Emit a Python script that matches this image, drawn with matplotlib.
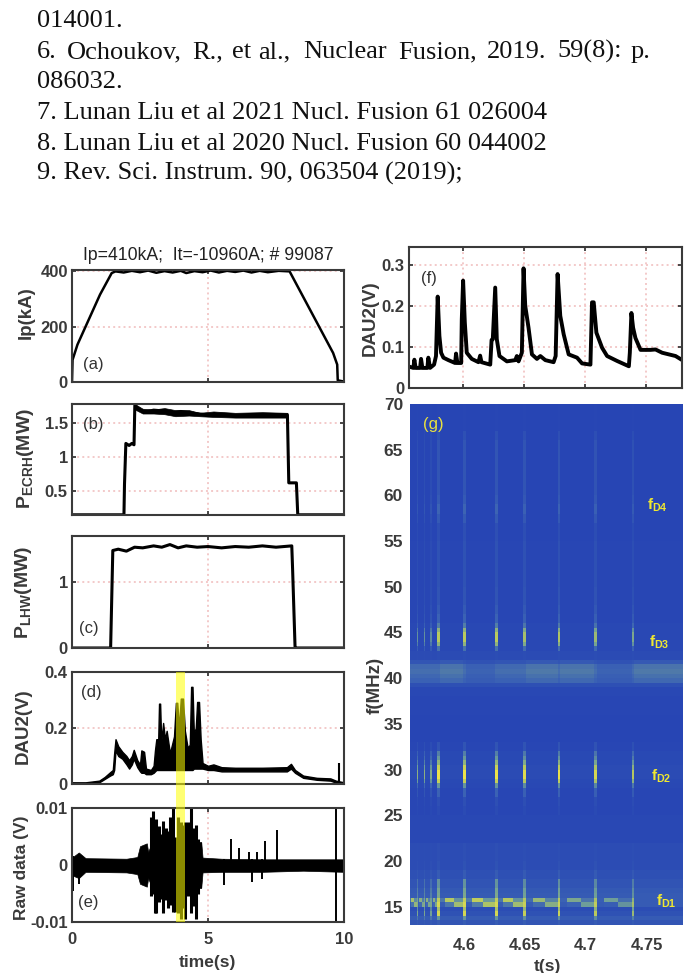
import matplotlib
matplotlib.use('Agg')
import matplotlib.pyplot as plt
import numpy as np
from matplotlib.colors import LinearSegmentedColormap
from matplotlib.patches import Rectangle

plt.rcParams['font.family'] = ['Liberation Sans', 'DejaVu Sans']
plt.rcParams['mathtext.fontset'] = 'custom'
plt.rcParams['mathtext.rm'] = 'Liberation Sans'
plt.rcParams['mathtext.bf'] = 'Liberation Sans:bold'

# Referencias (texto de arriba)
ref_lines = ['014001.', '086032.',
             '7. Lunan Liu et al 2021 Nucl. Fusion 61 026004',
             '8. Lunan Liu et al 2020 Nucl. Fusion 60 044002',
             '9. Rev. Sci. Instrum. 90, 063504 (2019);']
ref_words = ['6.', 'Ochoukov,', 'R.,', 'et', 'al.,', 'Nuclear', 'Fusion,', '2019.', '59(8):', 'p.']

# (a) Ip
ip_t = [0, 0.02, 0.2, 0.42, 1.03, 1.46, 1.6, 1.9, 2.2, 2.5, 2.8, 3.1, 3.4, 3.7, 4.0, 4.2, 4.5, 4.8, 5.1, 5.4, 5.7, 6.0, 6.3, 6.6, 6.9, 7.2, 7.6, 8.0, 9.6, 9.75, 9.77, 9.98]
ip_v = [0, 80, 135, 183, 316, 394, 400, 396, 402, 397, 403, 395, 401, 396, 402, 394, 401, 397, 403, 396, 402, 398, 403, 396, 402, 397, 402, 400, 105, 63, 6, 2]

# (b) P_ECRH
ecrh_t = [0, 1.91, 1.93, 1.98, 2.1, 2.2, 2.28, 2.31, 2.45, 2.7, 3.0, 3.3, 3.7, 4.0, 4.5, 5.0, 5.5, 6.0, 7.0, 7.92, 7.97, 8.25, 8.3, 10]
ecrh_v = [0.15, 0.15, 0.6, 1.2, 1.17, 1.2, 1.18, 1.76, 1.7, 1.66, 1.69, 1.68, 1.65, 1.67, 1.64, 1.62, 1.63, 1.61, 1.62, 1.62, 0.62, 0.62, 0.15, 0.15]
ecrh_band_t = [2.31, 2.6, 3.0, 3.4, 3.8, 4.3, 4.7, 5.2, 6.0, 7.0, 7.92]
ecrh_band_top = [1.78, 1.71, 1.7, 1.72, 1.69, 1.69, 1.65, 1.67, 1.65, 1.66, 1.65]
ecrh_band_bot = [1.7, 1.64, 1.64, 1.63, 1.6, 1.61, 1.6, 1.59, 1.58, 1.58, 1.58]

# (c) P_LHW
lhw_t = [0, 1.42, 1.5, 1.7, 2.0, 2.3, 2.6, 3.0, 3.3, 3.6, 3.9, 4.2, 4.6, 5.0, 5.5, 6.0, 6.5, 7.0, 7.5, 8.08, 8.11, 8.2, 8.25, 10]
lhw_v = [0, 0, 1.48, 1.5, 1.47, 1.53, 1.52, 1.55, 1.53, 1.57, 1.52, 1.55, 1.53, 1.54, 1.52, 1.54, 1.53, 1.55, 1.53, 1.55, 1.2, 0.02, 0, 0]

# (d) DAU2, envolvente
dau_t = [0, 0.5, 1, 1.2, 1.4, 1.5, 1.55, 1.6, 1.7, 1.85, 2.0, 2.1, 2.2, 2.27, 2.4, 2.5, 2.55, 2.65, 2.72, 2.9, 3.0, 3.05, 3.1, 3.17, 3.2, 3.24, 3.28, 3.35, 3.42, 3.48, 3.6, 3.75, 3.82, 3.87, 3.93, 4.0, 4.08, 4.15, 4.25, 4.33, 4.38, 4.43, 4.48, 4.55, 4.6, 4.67, 4.73, 4.8, 5.0, 5.2, 5.5, 6.0, 7.0, 7.9, 8.05, 8.2, 8.5, 9.0, 9.5, 9.7, 10]
dau_top = [0.006, 0.006, 0.012, 0.025, 0.042, 0.05, 0.11, 0.16, 0.135, 0.115, 0.1, 0.085, 0.1, 0.122, 0.085, 0.07, 0.12, 0.115, 0.055, 0.05, 0.065, 0.12, 0.16, 0.16, 0.287, 0.287, 0.15, 0.218, 0.16, 0.19, 0.11, 0.17, 0.29, 0.29, 0.2, 0.305, 0.305, 0.19, 0.13, 0.14, 0.347, 0.347, 0.18, 0.2, 0.293, 0.293, 0.16, 0.075, 0.065, 0.07, 0.06, 0.058, 0.058, 0.06, 0.072, 0.05, 0.03, 0.022, 0.02, 0.012, 0.006]
dau_bot = [0, 0, 0.006, 0.018, 0.03, 0.035, 0.05, 0.12, 0.1, 0.09, 0.07, 0.055, 0.07, 0.09, 0.06, 0.045, 0.04, 0.04, 0.035, 0.035, 0.04, 0.045, 0.05, 0.05, 0.05, 0.05, 0.05, 0.05, 0.05, 0.05, 0.05, 0.05, 0.05, 0.05, 0.05, 0.05, 0.05, 0.05, 0.05, 0.05, 0.05, 0.05, 0.055, 0.055, 0.055, 0.055, 0.055, 0.055, 0.05, 0.05, 0.045, 0.045, 0.045, 0.045, 0.055, 0.04, 0.022, 0.015, 0.012, 0.005, 0]
dau_spike_t = [9.8]
dau_spike_v = [0.075]

# (e) Raw data, envolvente y picos
raw_t = [0, 0.25, 0.5, 2.0, 2.4, 2.5, 2.75, 2.8, 2.9, 3.05, 4.75, 4.8, 5.5, 7.0, 8.5, 10]
raw_top = [0.0013, 0.0022, 0.0012, 0.0011, 0.0014, 0.0033, 0.0038, 0.0023, 0.0035, 0.0035, 0.004, 0.0013, 0.0011, 0.001, 0.001, 0.001]
raw_bot = [-0.0018, -0.0023, -0.0012, -0.0013, -0.0016, -0.0033, -0.0038, -0.0023, -0.0035, -0.0035, -0.004, -0.0013, -0.0012, -0.0012, -0.001, -0.0012]
burst_t = [2.9, 2.97, 3.05, 3.1, 3.2, 3.28, 3.35, 3.45, 3.52, 3.6, 3.7, 3.78, 3.9, 4.0, 4.08, 4.15, 4.25, 4.36, 4.45, 4.55, 4.65, 4.72]
burst_top = [0.0085, 0.0095, 0.006, 0.008, 0.0068, 0.0055, 0.0078, 0.0065, 0.006, 0.0085, 0.01, 0.005, 0.0085, 0.0075, 0.007, 0.0075, 0.0075, 0.01, 0.0065, 0.007, 0.0045, 0.004]
burst_bot = [-0.0055, -0.005, -0.0085, -0.0085, -0.0065, -0.006, -0.0085, -0.0062, -0.0075, -0.007, -0.0082, -0.0082, -0.0085, -0.0095, -0.0075, -0.0095, -0.0055, -0.0085, -0.0072, -0.0095, -0.005, -0.004]
spike_t = [0.02, 0.25, 5.6, 5.85, 6.15, 6.5, 6.6, 6.8, 7.0, 7.1, 7.55, 9.72]
spike_hi = [0.0015, 0.0015, 0.001, 0.0045, 0.0029, 0.0022, 0.001, 0.0022, 0.001, 0.0042, 0.0062, 0.01]
spike_lo = [-0.0045, -0.0034, -0.0035, -0.001, -0.001, -0.001, -0.003, -0.001, -0.0024, -0.001, -0.001, -0.01]

# (f) DAU2 ampliado
f_t = [4.5558, 4.5591, 4.5599, 4.561, 4.5646, 4.5654, 4.5665, 4.5706, 4.5714, 4.5728, 4.5761, 4.5777, 4.5791, 4.5805, 4.5819, 4.5838, 4.5879, 4.5934, 4.5942, 4.5953, 4.5984, 4.5989, 4.6, 4.6014, 4.603, 4.6071, 4.6126, 4.614, 4.6151, 4.6223, 4.6234, 4.6244, 4.6264, 4.6277, 4.6299, 4.636, 4.6429, 4.6442, 4.6456, 4.6483, 4.6497, 4.6511, 4.6538, 4.6566, 4.6607, 4.6635, 4.6676, 4.6744, 4.6761, 4.6777, 4.6799, 4.6827, 4.6868, 4.6937, 4.6978, 4.7047, 4.706, 4.7074, 4.7096, 4.7143, 4.7184, 4.7266, 4.7363, 4.7371, 4.7384, 4.7398, 4.7417, 4.7459, 4.7541, 4.7582, 4.7637, 4.7692, 4.7747, 4.7802]
f_v = [0.052, 0.049, 0.069, 0.049, 0.049, 0.071, 0.049, 0.049, 0.074, 0.049, 0.057, 0.078, 0.223, 0.127, 0.086, 0.074, 0.068, 0.061, 0.084, 0.061, 0.061, 0.167, 0.262, 0.16, 0.086, 0.071, 0.063, 0.079, 0.063, 0.057, 0.117, 0.119, 0.245, 0.119, 0.078, 0.065, 0.068, 0.078, 0.065, 0.086, 0.292, 0.2, 0.147, 0.082, 0.071, 0.078, 0.068, 0.063, 0.078, 0.278, 0.176, 0.131, 0.082, 0.074, 0.06, 0.057, 0.209, 0.209, 0.135, 0.098, 0.078, 0.066, 0.053, 0.086, 0.183, 0.147, 0.122, 0.093, 0.093, 0.094, 0.086, 0.082, 0.078, 0.068]

# (g) espectrograma: bandas de frecuencia y rafagas
g_freq = [13, 13.5, 14, 14.5, 15, 15.5, 16, 16.5, 17, 18, 19, 20, 22, 25, 26, 27, 28, 28.5, 29, 29.5, 30, 30.5, 31, 31.5, 32, 33, 36, 38, 39, 39.5, 40, 40.5, 41, 41.5, 42, 43, 43.5, 44, 44.5, 45, 45.5, 46, 47, 48, 50, 52, 55, 57, 58, 59, 60, 61, 63, 65, 66, 67, 70]
g_bg = [.16, .2, .13, .1, .2, .2, .2, .18, .15, .12, .09, .09, .06, .05, .05, .05, .06, .07, .08, .08, .08, .07, .07, .07, .05, .04, .05, .06, .12, .24, .27, .3, .28, .16, .08, .06, .06, .06, .06, .06, .06, .05, .05, .05, .05, .05, .04, .04, .04, .04, .04, .04, .04, .04, .04, .04]
g_profile = [.05, .25, .75, .6, .7, .6, .35, .35, .3, .08, .04, .02, 0, .03, .06, .2, .4, .75, .95, .95, .75, .55, .4, .3, .1, 0, 0, 0, 0, 0, 0, 0, 0, 0, .02, .25, .55, .7, .7, .55, .3, .2, .14, .1, .08, .08, .07, .15, .22, .15, .12, .12, .12, .12, .08, .01]
g_burst_t = [4.5619, 4.5673, 4.5728, 4.5788, 4.6006, 4.6264, 4.65, 4.678, 4.708, 4.739]
g_burst_gain = [.55, .55, .5, 1, 1, 1, .9, .95, .85, .7]
g_burst_w = [.0005, .0005, .0005, .0014, .0012, .0014, .0012, .0012, .0011, .0009]
g_d1_gap = [.7, .6, .6, .6, .75, .8, .75, .65, .55, .5, .1]
g_40_gain = [1, 1, 1, 1, 1.15, .85, 1, 1.15, 1.15, .85, 1.15]
g_xlim = (4.5555, 4.78)

ANCHO, ALTO = 689, 973
fig = plt.figure(figsize=(ANCHO / 100, ALTO / 100), dpi=100)

gris = '#3a3a3a'
rosa = '#f3c9c9'


def caja(izq, arr, der, aba):
    return fig.add_axes([izq / ANCHO, 1 - aba / ALTO, (der - izq) / ANCHO, (aba - arr) / ALTO])


def texto(x, y, s, **kw):
    kw.setdefault('ha', 'center')
    kw.setdefault('va', 'center')
    return fig.text(x / ANCHO, 1 - y / ALTO, s, **kw)


def estilo(ax, xticks, yticks, ylabels, xlim, ylim, xvis=False):
    ax.set_xlim(xlim)
    ax.set_ylim(ylim)
    ax.set_xticks(xticks)
    ax.set_yticks(yticks)
    ax.set_yticklabels(ylabels, fontweight='bold', fontsize=12, color=gris)
    ax.set_xticklabels(xticks if xvis else [])
    ax.grid(True, linestyle=':', color=rosa, linewidth=1.4)
    ax.set_axisbelow(True)
    ax.tick_params(direction='in', top=True, right=True, length=3, width=1.3, color=gris, pad=3)
    for s in ax.spines.values():
        s.set_linewidth(1.5)
        s.set_color(gris)


# Texto de referencias
for linea, y in zip(ref_lines, [27, 88, 119, 150, 180]):
    fig.text(37 / ANCHO, 1 - y / ALTO, linea, family='Liberation Serif', fontsize=19, color='#111111', va='baseline')
for palabra, x in zip(ref_words, [37, 67, 192, 232, 258, 303, 398, 487, 557, 631]):
    fig.text(x / ANCHO, 1 - 58 / ALTO, palabra, family='Liberation Serif', fontsize=19, color='#111111', va='baseline')

X_LARGO = (0, 10)

ax_a = caja(72, 270, 344, 382)
estilo(ax_a, [0, 5, 10], [0, 200, 400], ['0', '200', '400'], X_LARGO, (0, 405))
ax_a.plot(ip_t, ip_v, color='k', lw=1.8)

ax_b = caja(72, 404, 344, 515)
estilo(ax_b, [0, 5, 10], [0.5, 1, 1.5], ['0.5', '1', '1.5'], X_LARGO, (0.147, 1.78))
ax_b.plot(ecrh_t, ecrh_v, color='k', lw=2.2)
ax_b.fill_between(ecrh_band_t, ecrh_band_bot, ecrh_band_top, color='k', lw=0.5)

ax_c = caja(72, 536, 344, 648)
estilo(ax_c, [0, 5, 10], [0, 1], ['0', '1'], X_LARGO, (0, 1.7))
ax_c.plot(lhw_t, lhw_v, color='k', lw=2.2)

ax_d = caja(72, 672, 344, 784)
estilo(ax_d, [0, 5, 10], [0, 0.2, 0.4], ['0', '0.2', '0.4'], X_LARGO, (0, 0.4))
ax_d.fill_between(dau_t, dau_bot, dau_top, color='k', lw=1)
ax_d.vlines(dau_spike_t, 0, dau_spike_v, color='k', lw=1.5)

ax_e = caja(72, 808, 344, 922)
estilo(ax_e, [0, 5, 10], [-0.01, 0, 0.01], ['-0.01', '0', '0.01'], X_LARGO, (-0.01, 0.01), xvis=True)
ax_e.fill_between(raw_t, raw_bot, raw_top, color='k', lw=0.5)
ax_e.vlines(burst_t, burst_bot, burst_top, color='k', lw=2.2)
ax_e.vlines(spike_t, spike_lo, spike_hi, color='k', lw=1.4)
for lab in ax_e.get_xticklabels():
    lab.set_fontweight('bold')
    lab.set_fontsize(12)
    lab.set_color(gris)
ax_e.tick_params(axis='x', pad=7)

ax_f = caja(409, 247, 682, 388)
estilo(ax_f, [4.6, 4.65, 4.7, 4.75], [0, 0.1, 0.2, 0.3], ['0', '0.1', '0.2', '0.3'], g_xlim, (0, 0.344))
ax_f.plot(f_t, f_v, color='k', lw=2.8)

# Espectrograma: cada hueco entre rafagas lleva tres columnas
bordes = [g_xlim[0]]
for c, w in zip(g_burst_t, g_burst_w):
    ini = bordes[-1]
    bordes += [ini + (c - w - ini) * 0.2, ini + (c - w - ini) * 0.6, c - w, c + w]
ini = bordes[-1]
bordes += [ini + (g_xlim[1] - ini) * 0.2, ini + (g_xlim[1] - ini) * 0.6, g_xlim[1]]
bordes = np.array(bordes)

bg = np.array(g_bg)
perfil = np.array(g_profile)
malla = []
for k in range(len(g_burst_t) + 1):
    for parte in range(3):
        col = bg.copy()
        col[29:34] = col[29:34] * g_40_gain[k]
        if parte == 0:
            col[5] = max(col[5], g_d1_gap[k] * 0.45)
        if parte == 1:
            col[5] = max(col[5], g_d1_gap[k])
            col[4] = max(col[4], g_d1_gap[k] * 0.45)
        if parte == 2:
            col[4] = max(col[4], g_d1_gap[k] * 0.9)
            col[5] = max(col[5], g_d1_gap[k] * 0.6)
        malla.append(col)
    if k < len(g_burst_t):
        malla.append(bg + perfil * g_burst_gain[k])
malla = np.array(malla).T

azul_amarillo = LinearSegmentedColormap.from_list('espectro', ['#2340b4', '#3b62b4', '#6f9f98', '#b5c860', '#ece24a'])
ax_g = caja(410, 403, 683, 925)
ax_g.pcolormesh(bordes, g_freq, malla, cmap=azul_amarillo, vmin=0, vmax=1, shading='flat')
ax_g.set_xlim(g_xlim)
ax_g.set_ylim(13, 70.1)
ax_g.set_xticks([4.6, 4.65, 4.7, 4.75])
ax_g.set_xticklabels(['4.6', '4.65', '4.7', '4.75'], fontweight='bold', fontsize=12, color=gris)
ax_g.set_yticks(range(15, 71, 5))
ax_g.set_yticklabels([str(v) for v in range(15, 71, 5)], fontweight='bold', fontsize=12.5, color=gris)
ax_g.tick_params(length=0, pad=5)
ax_g.tick_params(axis='x', pad=9)
for s in ax_g.spines.values():
    s.set_visible(False)

# Franja amarilla sobre (d) y (e)
fig.add_artist(Rectangle((176 / ANCHO, 1 - 922 / ALTO), 9 / ANCHO, 250 / ALTO, transform=fig.transFigure,
                         facecolor='yellow', alpha=0.55, edgecolor='none', zorder=10))

# Rotulos
texto(208, 256, 'Ip=410kA;  It=-10960A; # 99087', fontsize=12.7, color='#222222')
rot = dict(rotation=90, fontweight='bold', fontsize=13.5, color=gris)
texto(26, 313, 'Ip(kA)', **rot)
texto(25, 458, r'$\mathbf{P_{ECRH}(MW)}$', rotation=90, fontsize=14, color=gris)
texto(24, 592, r'$\mathbf{P_{LHW}(MW)}$', rotation=90, fontsize=14, color=gris)
texto(23, 726, 'DAU2(V)', **rot)
texto(22, 868, 'Raw data (V)', rotation=90, fontweight='bold', fontsize=12.5, color=gris)
texto(370, 318, 'DAU2(V)', **rot)
texto(375, 685, 'f(MHz)', **rot)
texto(207, 963, 'time(s)', fontweight='bold', fontsize=12.5, color=gris)
texto(547, 966, 't(s)', fontweight='bold', fontsize=12.5, color=gris)

for x, y, s in [(93, 365, '(a)'), (93, 424, '(b)'), (89, 629, '(c)'), (91, 693, '(d)'), (88, 903, '(e)'), (429, 278, '(f)')]:
    texto(x, y, s, fontsize=12, color='#333333')
texto(433, 424, '(g)', fontsize=12, color='#e8e040')
for x, y, s in [(657, 505, 'D4'), (659, 642, 'D3'), (661, 776, 'D2'), (666, 901, 'D1')]:
    texto(x, y, r'$\mathbf{f_{%s}}$' % s, fontsize=11, color='#f0e830')

fig.savefig('out.png', dpi=100)
